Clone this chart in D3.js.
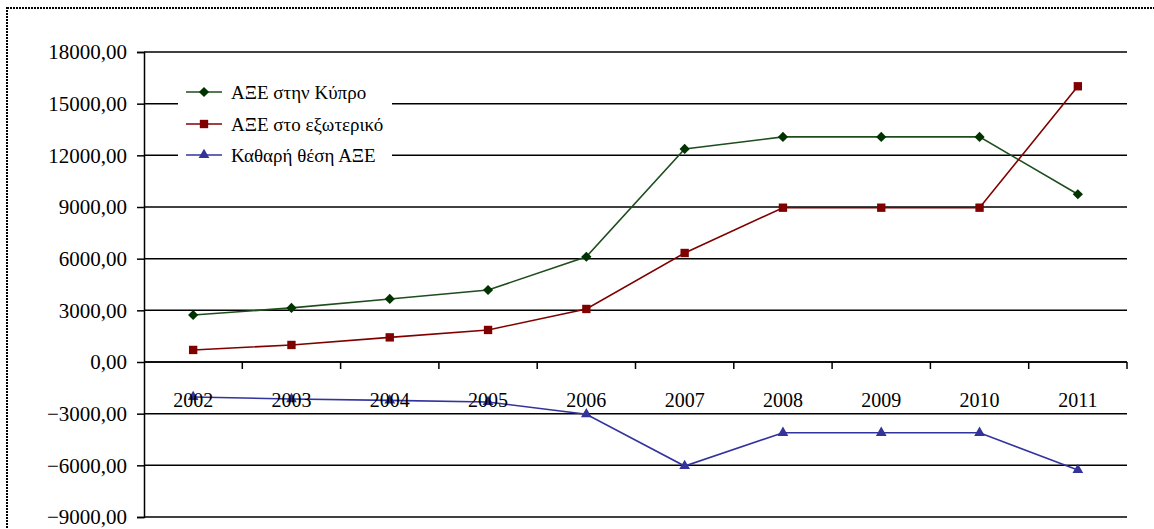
<!DOCTYPE html>
<html>
<head>
<meta charset="utf-8">
<script src="https://cdn.jsdelivr.net/npm/d3@7"></script>
<style>
  body { margin: 0; background: #fff; }
  svg { display: block; font-family: "Liberation Serif", "Times New Roman", serif; }
</style>
</head>
<body>
<svg id="chart" width="1154" height="529"></svg>
<script>
// years on the x axis
const years = ["2002", "2003", "2004", "2005", "2006", "2007", "2008", "2009", "2010", "2011"];
// ΑΞΕ στην Κύπρο
const inCyprus = [2730, 3140, 3660, 4180, 6110, 12370, 13070, 13070, 13070, 9740];
// ΑΞΕ στο εξωτερικό
const abroad = [700, 990, 1430, 1860, 3080, 6330, 8960, 8960, 8960, 16010];
// Καθαρή θέση ΑΞΕ
const netPos = [-2030, -2150, -2230, -2320, -3030, -6040, -4110, -4110, -4110, -6270];
const yTicks = [-9000, -6000, -3000, 0, 3000, 6000, 9000, 12000, 15000, 18000];
const seriesNames = ["ΑΞΕ στην Κύπρο", "ΑΞΕ στο εξωτερικό", "Καθαρή θέση ΑΞΕ"];

let svg = d3.select("#chart");

let mLeft = 144, mRight = 1127, mTop = 52, mBottom = 517;

let x = d3.scaleBand().domain(years).range([mLeft, mRight]);
let y = d3.scaleLinear().domain([-9000, 18000]).range([mBottom, mTop]);

let fmt = v => d3.format(".2f")(v).replace(".", ",");

// dotted outer frame
svg.append("rect")
    .attr("x", 7).attr("y", 8)
    .attr("width", 1160).attr("height", 540)
    .attr("fill", "none")
    .attr("stroke", "#000")
    .attr("stroke-width", 2)
    .attr("stroke-dasharray", "2,1");

// gridlines
svg.append("g")
    .selectAll("line")
    .data(yTicks)
    .join("line")
    .attr("x1", mLeft).attr("x2", mRight)
    .attr("y1", d => y(d)).attr("y2", d => y(d))
    .attr("stroke", "#000")
    .attr("stroke-width", 1.5);

// y axis
let yAxis = svg.append("g")
    .attr("transform", `translate(${mLeft},0)`)
    .call(d3.axisLeft(y).tickValues(yTicks).tickFormat(fmt).tickSize(7).tickPadding(10));
yAxis.select(".domain").attr("stroke", "#000").attr("stroke-width", 1.5);
yAxis.selectAll(".tick line").attr("stroke", "#000").attr("stroke-width", 1.5);
yAxis.selectAll("text")
    .attr("fill", "#000")
    .style("font-family", "'Liberation Serif', serif")
    .style("font-size", "21px");

// x axis at zero with ticks at band edges
let xg = svg.append("g");
xg.append("line")
    .attr("x1", mLeft).attr("x2", mRight)
    .attr("y1", y(0)).attr("y2", y(0))
    .attr("stroke", "#000").attr("stroke-width", 1.5);
xg.selectAll("line.tk")
    .data(years.slice(1).concat(["end"]))
    .join("line")
    .attr("class", "tk")
    .attr("x1", d => d === "end" ? mRight : x(d))
    .attr("x2", d => d === "end" ? mRight : x(d))
    .attr("y1", y(0)).attr("y2", y(0) + 7)
    .attr("stroke", "#000").attr("stroke-width", 1.5);

let series = [
    { name: seriesNames[0], values: inCyprus, color: "#1e4d1e", fill: "#003300", sym: "diamond" },
    { name: seriesNames[1], values: abroad, color: "#800000", fill: "#800000", sym: "square" },
    { name: seriesNames[2], values: netPos, color: "#3333a0", fill: "#333399", sym: "triangle" }
];

function symPath(s) {
    if (s === "diamond") return d3.symbol(d3.symbolSquare, 52)();
    if (s === "square") return d3.symbol(d3.symbolSquare, 70)();
    return d3.symbol(d3.symbolTriangle, 50)();
}
function symRot(s) { return s === "diamond" ? " rotate(45)" : ""; }

let line = d3.line()
    .x((d, i) => x(years[i]) + x.bandwidth() / 2)
    .y(d => y(d));

series.forEach(s => {
    svg.append("path")
        .datum(s.values)
        .attr("fill", "none")
        .attr("stroke", s.color)
        .attr("stroke-width", 1.6)
        .attr("d", line);
    svg.append("g")
        .selectAll("path")
        .data(s.values)
        .join("path")
        .attr("d", symPath(s.sym))
        .attr("fill", s.fill)
        .attr("transform", (d, i) => `translate(${x(years[i]) + x.bandwidth() / 2},${y(d)})${symRot(s.sym)}`);
});

// year labels (drawn over the lines)
svg.append("g")
    .selectAll("text")
    .data(years)
    .join("text")
    .attr("x", d => x(d) + x.bandwidth() / 2)
    .attr("y", y(0) + 45)
    .attr("text-anchor", "middle")
    .style("font-size", "20px")
    .attr("fill", "#000")
    .text(d => d);

// legend
let lg = svg.append("g");
lg.append("rect")
    .attr("x", 178).attr("y", 74)
    .attr("width", 214).attr("height", 100)
    .attr("fill", "#fff");
let rowY = [92, 124, 155];
series.forEach((s, i) => {
    lg.append("line")
        .attr("x1", 186).attr("x2", 222)
        .attr("y1", rowY[i]).attr("y2", rowY[i])
        .attr("stroke", s.color).attr("stroke-width", 1.6);
    lg.append("path")
        .attr("d", symPath(s.sym))
        .attr("fill", s.fill)
        .attr("transform", `translate(204,${rowY[i]})${symRot(s.sym)}`);
    lg.append("text")
        .attr("x", 231)
        .attr("y", rowY[i])
        .attr("dy", "0.35em")
        .style("font-family", "'Liberation Serif', 'DejaVu Serif', serif")
        .style("font-size", "19px")
        .attr("fill", "#000")
        .text(s.name);
});
</script>
</body>
</html>
